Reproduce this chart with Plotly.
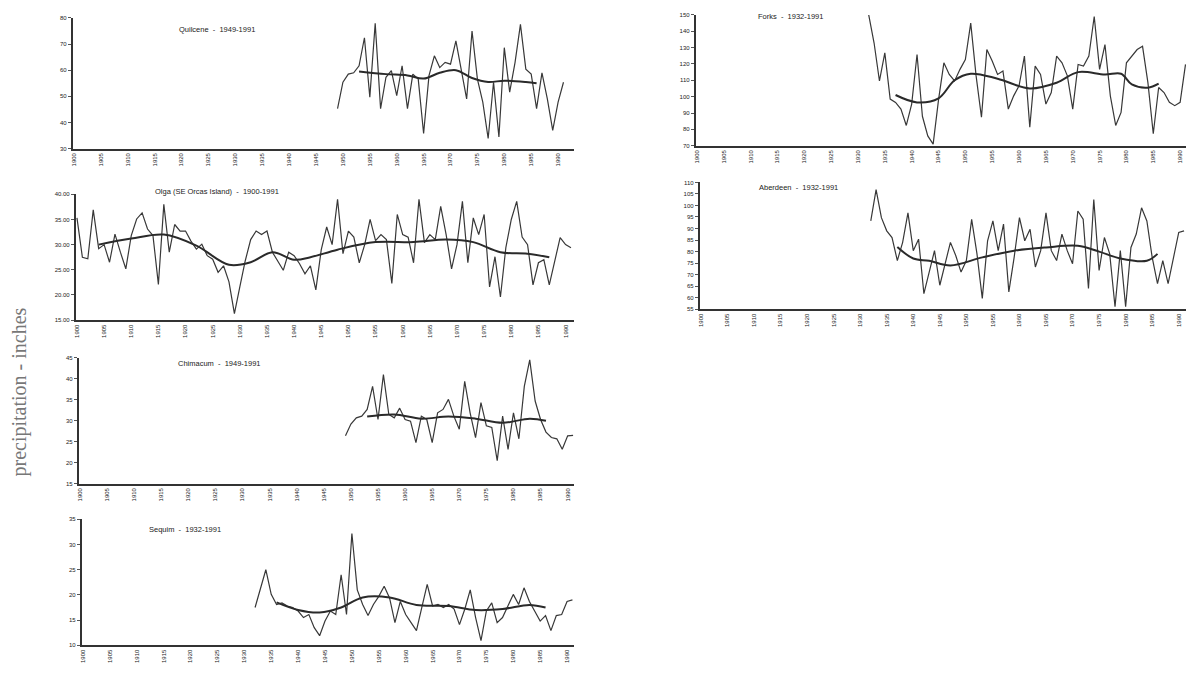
import plotly.graph_objects as go

W, H = 1188, 675

# ---------------- data (inches of annual precipitation) ----------------
quilcene_years = list(range(1949, 1992))
quilcene = [45.3, 55.4, 58.5, 59, 61.7, 72.4, 49.7, 77.9, 45.3, 57.3,
            59.8, 50.3, 61.7, 45.3, 58.5, 56.6, 35.8, 57.9, 65.5, 61,
            63, 62.3, 71.2, 60.4, 49, 75, 56.6, 47.8, 33.9, 55.4,
            34.5, 68.6, 51.6, 63, 77.5, 60.4, 58.5, 45.3, 59, 49,
            37, 47.8, 55.4]
quilcene_trend_years = [1953, 1958, 1962, 1965, 1968, 1971, 1974, 1977, 1980, 1984, 1986]
quilcene_trend = [59.5, 58.5, 58, 56.8, 59, 60, 57, 55.5, 56, 55.5, 55]

olga_years = list(range(1900, 1992))
olga = [35.3, 27.5, 27.2, 36.9, 29.2, 30, 26.5, 32.1, 28.5, 25.2,
        31.8, 35.1, 36.3, 33.1, 31.8, 22.1, 38.0, 28.5, 34, 32.7,
        32.7, 30.7, 29.1, 30.1, 27.8, 27.1, 24.5, 25.8, 22.6, 16.3,
        21.6, 26.8, 31, 32.7, 32, 32.7, 28.5, 26.8, 24.9, 28.5,
        27.8, 26.2, 24.2, 25.8, 21, 29, 33.5, 30, 39, 28.2,
        32.7, 31.5, 26.4, 30, 35, 30.8, 32, 31, 22.3, 36,
        32, 31.5, 26.4, 39, 30.4, 32, 31, 37.6, 32, 25.2,
        30, 38.6, 26.4, 35.3, 32, 36, 21.6, 27.6, 19.6, 29.4,
        35, 38.6, 31.5, 30, 22, 26.4, 27, 22, 27, 31.4,
        30, 29.4]
olga_trend_years = [1904, 1910, 1916, 1922, 1928, 1932, 1936, 1940, 1943, 1948,
                    1955, 1962, 1968, 1973, 1978, 1983, 1987]
olga_trend = [30, 31.2, 32, 29.8, 26, 26.5, 28.5, 27, 27.5, 29,
              30.5, 30.5, 31, 30.5, 28.5, 28.2, 27.5]

chimacum_years = list(range(1949, 1992))
chimacum = [26.4, 29.2, 30.7, 31.1, 32.7, 38.2, 30.3, 41, 31.5, 30.7,
            33, 30.3, 29.9, 24.8, 31.1, 30.3, 24.8, 31.9, 32.7, 35.1,
            31.1, 28, 39.4, 31.9, 26, 34.3, 28.8, 28.4, 20.5, 31.1,
            23.2, 31.9, 25.7, 38.2, 44.5, 34.7, 30.3, 27.3, 26, 25.7,
            23.2, 26.4, 26.5]
chimacum_trend_years = [1953, 1958, 1963, 1968, 1973, 1978, 1983, 1986]
chimacum_trend = [31, 31.5, 30.5, 31, 30.5, 29.5, 30.5, 30]

sequim_years = list(range(1932, 1992))
sequim = [17.5, 21.4, 25, 20.1, 18.1, 18.4, 17.8, 17.5, 16.8, 15.5,
          16.1, 13.5, 11.9, 14.8, 16.8, 16.1, 24, 16.1, 32.2, 21,
          18.1, 15.9, 18.1, 19.7, 21.7, 19.4, 14.5, 18.7, 16.1, 14.5,
          12.9, 17.5, 22.1, 17.8, 18.1, 17.5, 18.1, 17.2, 14.1, 17.2,
          21, 15.5, 10.9, 16.8, 18.4, 14.5, 15.5, 17.8, 20.1, 18.1,
          21.4, 18.7, 16.8, 14.8, 15.9, 12.9, 15.9, 16.1, 18.7, 19]
sequim_trend_years = [1936, 1940, 1944, 1948, 1952, 1957, 1962, 1968, 1973, 1978, 1983, 1986]
sequim_trend = [18.5, 17, 16.5, 17.5, 19.5, 19.5, 18, 17.8, 17, 17.2, 18, 17.5]

forks_years = list(range(1932, 1992))
forks = [150, 132.8, 109.6, 126.8, 98.5, 96.5, 92.4, 82.4, 95.5, 125.8,
         88, 76, 71, 98, 120.7, 113.6, 109.6, 116.7, 122.7, 145,
         112.7, 87.4, 128.8, 121.8, 113.6, 115.7, 92.4, 100.5, 106.6, 124.8,
         81.3, 118.7, 113.6, 95.5, 102.5, 124.8, 120.7, 112.7, 92.4, 119.7,
         118.7, 124.8, 149, 116.7, 131.8, 100.5, 82.4, 90.4, 120.7, 124.8,
         128.8, 130.8, 108.6, 77.3, 105.6, 102.5, 96.5, 94.5, 96.5, 119.7]
forks_trend_years = [1937, 1941, 1945, 1948, 1951, 1956, 1962, 1967, 1971, 1976, 1979, 1981, 1984, 1986]
forks_trend = [101, 96.5, 99, 110, 114, 111, 105, 108.5, 115, 113.5, 114, 107.5, 105.5, 108]

aberdeen_years = list(range(1932, 1992))
aberdeen = [93.3, 106.9, 94.7, 89, 86.1, 76.1, 84, 96.8, 80.4, 85.4,
            61.8, 71.8, 80.4, 65.4, 75.4, 84, 78.3, 71.1, 76.1, 94,
            79, 59.7, 84.7, 93.3, 80.4, 91.9, 62.5, 77.5, 94.7, 84.7,
            89.7, 73.3, 80.4, 96.8, 80.4, 76.1, 87.6, 80.4, 74.7, 97.6,
            94, 64, 102.6, 71.8, 86.1, 79, 56.1, 80.4, 56.1, 81.8,
            87.6, 99, 93.3, 77.5, 66.1, 76.1, 66.1, 77.5, 88.3, 89]
aberdeen_trend_years = [1937, 1940, 1943, 1947, 1953, 1959, 1965, 1971, 1975, 1979, 1984, 1986]
aberdeen_trend = [82, 77, 76, 74, 77.5, 80.4, 81.8, 82.5, 80, 77, 76, 79]

tick_years = list(range(1900, 1991, 5))

# ---------------- panels (pixel layout) ----------------
panels = [
    dict(title="Quilcene  -  1949-1991", yrs=quilcene_years, vals=quilcene,
         tyrs=quilcene_trend_years, tv=quilcene_trend,
         px=(71, 573), py=(15, 147), ppy=5.4, yr=(30, 80), dt=10, fmt="d", tpos=(215, 27)),
    dict(title="Olga (SE Orcas Island)  -  1900-1991", yrs=olga_years, vals=olga,
         tyrs=olga_trend_years, tv=olga_trend,
         px=(74, 573), py=(193, 320), ppy=5.45, yr=(15, 40), dt=5, fmt=".2f", tpos=(215, 190)),
    dict(title="Chimacum  -  1949-1991", yrs=chimacum_years, vals=chimacum,
         tyrs=chimacum_trend_years, tv=chimacum_trend,
         px=(77, 573), py=(358, 485), ppy=5.44, yr=(15, 45), dt=5, fmt="d", tpos=(218, 364)),
    dict(title="Sequim  -  1932-1991", yrs=sequim_years, vals=sequim,
         tyrs=sequim_trend_years, tv=sequim_trend,
         px=(80, 573), py=(521, 648), ppy=5.4, yr=(10, 35), dt=5, fmt="d", tpos=(183, 531)),
    dict(title="Forks  -  1932-1991", yrs=forks_years, vals=forks,
         tyrs=forks_trend_years, tv=forks_trend,
         px=(695, 1186), py=(12, 144), ppy=5.39, yr=(70, 150), dt=10, fmt="d", tpos=(790, 14)),
    dict(title="Aberdeen  -  1932-1991", yrs=aberdeen_years, vals=aberdeen,
         tyrs=aberdeen_trend_years, tv=aberdeen_trend,
         px=(699, 1186), py=(181, 309), ppy=5.33, yr=(55, 110), dt=5, fmt="d", tpos=(798, 186)),
]

fig = go.Figure()
layout = dict(
    width=W, height=H, margin=dict(l=0, r=0, t=0, b=0, pad=0),
    paper_bgcolor="white", plot_bgcolor="white", showlegend=False,
    font=dict(family="Liberation Sans", color="#333"),
)
annotations = []
tick_font = dict(family="Liberation Sans", size=6, color="#222")

for i, p in enumerate(panels, start=1):
    sfx = "" if i == 1 else str(i)
    x0, x1 = p["px"]
    y0, y1 = p["py"]
    xr = [1899.8, 1900 + (x1 - x0) / p["ppy"]]
    layout["xaxis" + sfx] = dict(
        domain=[x0 / W, x1 / W], range=xr, anchor="y" + sfx,
        showgrid=False, zeroline=False, showline=True, linecolor="#333", linewidth=2,
        tickmode="array", tickvals=tick_years, ticktext=[str(t) for t in tick_years],
        tickangle=-90, tickfont=tick_font, ticks="", fixedrange=True,
    )
    layout["yaxis" + sfx] = dict(
        domain=[1 - y1 / H, 1 - y0 / H], range=list(p["yr"]), anchor="x" + sfx,
        showgrid=False, zeroline=False, showline=True, linecolor="#333", linewidth=2,
        dtick=p["dt"], tick0=p["yr"][0], tickformat=p["fmt"], tickfont=tick_font,
        ticks="outside", ticklen=3, tickcolor="#555", fixedrange=True,
    )
    fig.add_trace(go.Scatter(x=p["yrs"], y=p["vals"], mode="lines",
                             line=dict(color="#383838", width=1.2),
                             xaxis="x" + sfx, yaxis="y" + sfx, cliponaxis=False,
                             hoverinfo="skip"))
    fig.add_trace(go.Scatter(x=p["tyrs"], y=p["tv"], mode="lines",
                             line=dict(color="#2a2a2a", width=2, shape="spline"),
                             xaxis="x" + sfx, yaxis="y" + sfx, hoverinfo="skip"))
    annotations.append(dict(text=p["title"], x=p["tpos"][0] / W, y=1 - p["tpos"][1] / H,
                            xref="paper", yref="paper", showarrow=False,
                            xanchor="center", yanchor="middle",
                            font=dict(family="Liberation Sans", size=7.5, color="#222")))

annotations.append(dict(text="precipitation - inches", x=18 / W, y=1 - 392 / H,
                        xref="paper", yref="paper", showarrow=False, textangle=-90,
                        xanchor="center", yanchor="middle",
                        font=dict(family="Liberation Serif", size=20, color="#777")))
layout["annotations"] = annotations
fig.update_layout(**layout)
fig.write_html("out.html", config={"displayModeBar": False, "staticPlot": True},
               post_script="document.body.style.margin='0';document.body.style.overflow='hidden';")
